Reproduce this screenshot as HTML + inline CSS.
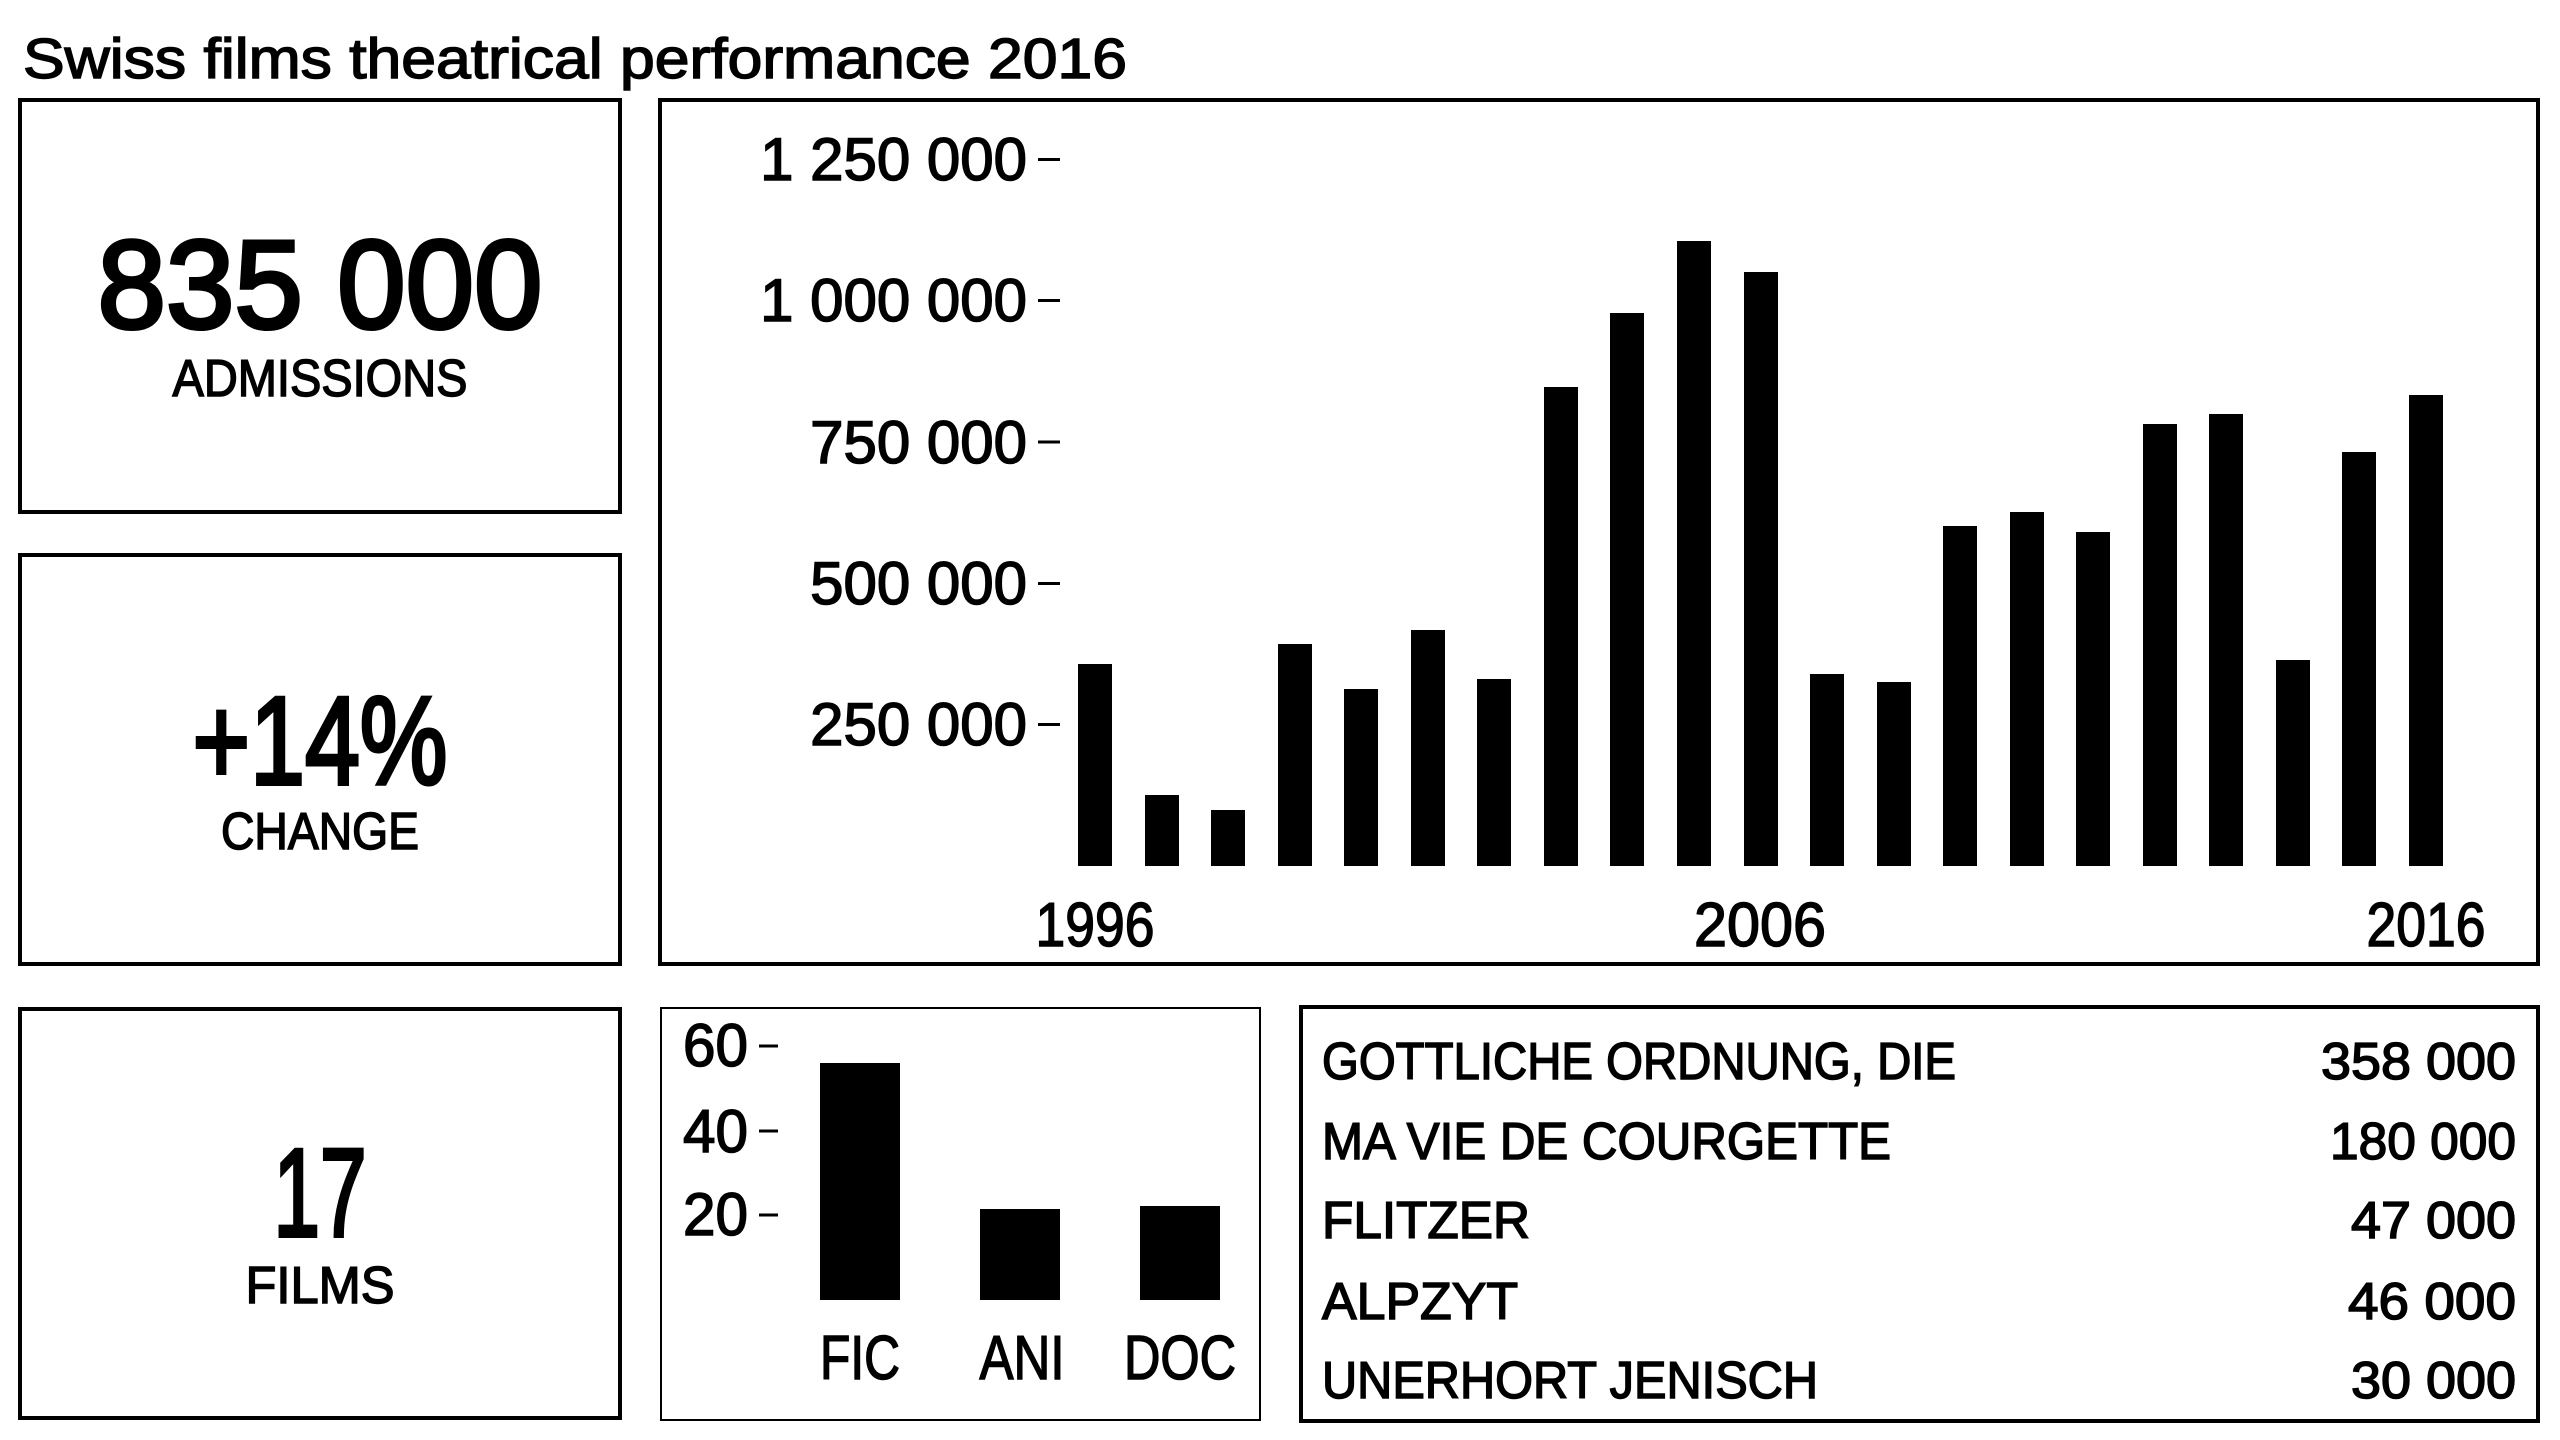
<!DOCTYPE html>
<html><head><meta charset="utf-8"><style>
html,body{margin:0;padding:0;background:#fff;}
svg{display:block;}
text{font-family:"Liberation Sans",sans-serif;fill:#000;stroke:#000;stroke-width:1.5;}
</style></head><body>
<svg width="2560" height="1440" viewBox="0 0 2560 1440" xmlns="http://www.w3.org/2000/svg">
<rect width="2560" height="1440" fill="#fff"/>
<text x="23" y="78" font-size="57" textLength="1104" lengthAdjust="spacingAndGlyphs">Swiss films theatrical performance 2016</text>
<g fill="none" stroke="#000" stroke-width="4">
<rect x="20" y="100" width="600" height="412"/>
<rect x="20" y="555" width="600" height="409"/>
<rect x="20" y="1009" width="600" height="409"/>
<rect x="660" y="100" width="1878" height="864"/>
<rect x="1301" y="1007" width="1237" height="414"/>
</g>
<rect x="661" y="1008" width="599" height="412" fill="none" stroke="#000" stroke-width="2"/>
<g text-anchor="middle">
<text x="320" y="328" font-size="125" textLength="445" lengthAdjust="spacingAndGlyphs" style="stroke-width:4">835 000</text>
<text x="320" y="396" font-size="52" textLength="295" lengthAdjust="spacingAndGlyphs">ADMISSIONS</text>
<text x="320" y="784" font-size="125" textLength="255" lengthAdjust="spacingAndGlyphs" style="stroke-width:4">+14%</text>
<text x="320" y="849" font-size="52" textLength="198" lengthAdjust="spacingAndGlyphs">CHANGE</text>
<text x="320" y="1236" font-size="125" textLength="93" lengthAdjust="spacingAndGlyphs" style="stroke-width:4">17</text>
<text x="320" y="1303" font-size="52" textLength="149" lengthAdjust="spacingAndGlyphs">FILMS</text>
</g>
<g text-anchor="end" font-size="60">
<text x="1027" y="180">1 250 000</text>
<text x="1027" y="321">1 000 000</text>
<text x="1027" y="463">750 000</text>
<text x="1027" y="604">500 000</text>
<text x="1027" y="745">250 000</text>
</g>
<g stroke="#000" stroke-width="3">
<line x1="1038" y1="159.5" x2="1060" y2="159.5"/>
<line x1="1038" y1="300.5" x2="1060" y2="300.5"/>
<line x1="1038" y1="442" x2="1060" y2="442"/>
<line x1="1038" y1="583.5" x2="1060" y2="583.5"/>
<line x1="1038" y1="724.5" x2="1060" y2="724.5"/>
<line x1="759" y1="1046" x2="778" y2="1046"/>
<line x1="759" y1="1131" x2="778" y2="1131"/>
<line x1="759" y1="1215" x2="778" y2="1215"/>
</g>
<g fill="#000">
<rect x="1078" y="664" width="34" height="202"/>
<rect x="1145" y="795" width="34" height="71"/>
<rect x="1211" y="810" width="34" height="56"/>
<rect x="1278" y="644" width="34" height="222"/>
<rect x="1344" y="689" width="34" height="177"/>
<rect x="1411" y="630" width="34" height="236"/>
<rect x="1477" y="679" width="34" height="187"/>
<rect x="1544" y="387" width="34" height="479"/>
<rect x="1610" y="313" width="34" height="553"/>
<rect x="1677" y="241" width="34" height="625"/>
<rect x="1744" y="272" width="34" height="594"/>
<rect x="1810" y="674" width="34" height="192"/>
<rect x="1877" y="682" width="34" height="184"/>
<rect x="1943" y="526" width="34" height="340"/>
<rect x="2010" y="512" width="34" height="354"/>
<rect x="2076" y="532" width="34" height="334"/>
<rect x="2143" y="424" width="34" height="442"/>
<rect x="2209" y="414" width="34" height="452"/>
<rect x="2276" y="660" width="34" height="206"/>
<rect x="2342" y="452" width="34" height="414"/>
<rect x="2409" y="395" width="34" height="471"/>
<rect x="820" y="1063" width="80" height="237"/>
<rect x="980" y="1209" width="80" height="91"/>
<rect x="1140" y="1206" width="80" height="94"/>
</g>
<g text-anchor="middle" font-size="62">
<text x="1095" y="946" textLength="119" lengthAdjust="spacingAndGlyphs">1996</text>
<text x="1760" y="946" textLength="132" lengthAdjust="spacingAndGlyphs">2006</text>
<text x="2426" y="946" textLength="119" lengthAdjust="spacingAndGlyphs">2016</text>
<text x="860" y="1379" textLength="80" lengthAdjust="spacingAndGlyphs">FIC</text>
<text x="1022" y="1379" textLength="85" lengthAdjust="spacingAndGlyphs">ANI</text>
<text x="1180" y="1379" textLength="112" lengthAdjust="spacingAndGlyphs">DOC</text>
</g>
<g font-size="60">
<text x="683" y="1066" textLength="65" lengthAdjust="spacingAndGlyphs">60</text>
<text x="683" y="1152" textLength="65" lengthAdjust="spacingAndGlyphs">40</text>
<text x="683" y="1235" textLength="65" lengthAdjust="spacingAndGlyphs">20</text>
</g>
<g font-size="52">
<text x="1322" y="1079" textLength="634" lengthAdjust="spacingAndGlyphs">GOTTLICHE ORDNUNG, DIE</text>
<text x="1322" y="1159" textLength="569" lengthAdjust="spacingAndGlyphs">MA VIE DE COURGETTE</text>
<text x="1322" y="1238" textLength="208" lengthAdjust="spacingAndGlyphs">FLITZER</text>
<text x="1322" y="1319" textLength="196" lengthAdjust="spacingAndGlyphs">ALPZYT</text>
<text x="1322" y="1398" textLength="496" lengthAdjust="spacingAndGlyphs">UNERHORT JENISCH</text>
</g>
<g font-size="52" text-anchor="end">
<text x="2516" y="1079" textLength="195" lengthAdjust="spacingAndGlyphs">358 000</text>
<text x="2516" y="1159" textLength="186" lengthAdjust="spacingAndGlyphs">180 000</text>
<text x="2516" y="1238" textLength="165" lengthAdjust="spacingAndGlyphs">47 000</text>
<text x="2516" y="1319" textLength="168" lengthAdjust="spacingAndGlyphs">46 000</text>
<text x="2516" y="1398" textLength="165" lengthAdjust="spacingAndGlyphs">30 000</text>
</g>
</svg>
</body></html>
